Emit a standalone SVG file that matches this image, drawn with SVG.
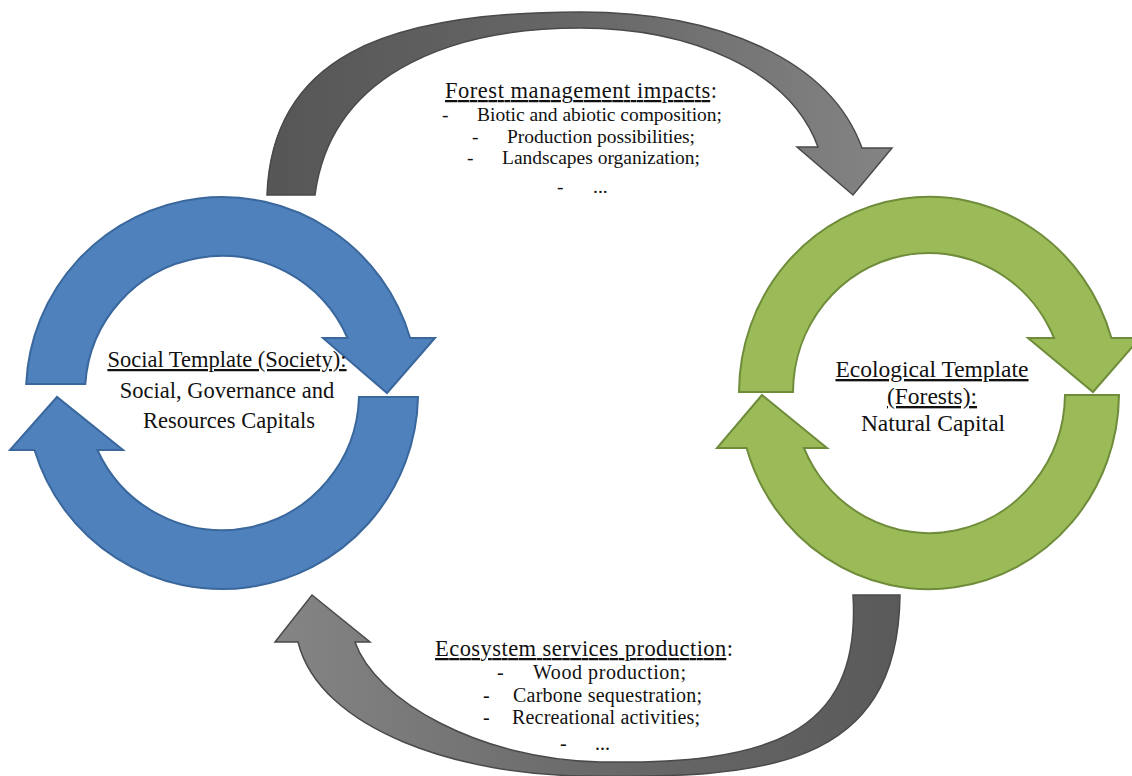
<svg xmlns="http://www.w3.org/2000/svg" width="1132" height="776" viewBox="0 0 1132 776">
<style>
.blue{fill:#4F81BD;stroke:#3A679C;stroke-width:2;stroke-linejoin:miter}
.green{fill:#9BBB59;stroke:#6F8C3A;stroke-width:2;stroke-linejoin:miter}
.gray{stroke:#4A4A4A;stroke-width:1.5;stroke-linejoin:miter}
.t{font-size:22.5px}
.tr{font-size:23.5px}
.i{font-size:19.5px}
.ib{font-size:20px}
</style>
<defs>
<linearGradient id="gTop" x1="0" y1="0" x2="1" y2="0">
<stop offset="0" stop-color="#565656"/>
<stop offset="0.5" stop-color="#676767"/>
<stop offset="1" stop-color="#848484"/>
</linearGradient>
<linearGradient id="gBot" x1="1" y1="0" x2="0" y2="0">
<stop offset="0" stop-color="#5a5a5a"/>
<stop offset="0.5" stop-color="#6a6a6a"/>
<stop offset="1" stop-color="#858585"/>
</linearGradient>
</defs>
<rect width="1132" height="776" fill="#ffffff"/>

<g font-family="Liberation Serif, Times New Roman, DejaVu Serif, serif" fill="#111111">
<g id="connectors">
<g id="forest-management-impacts">
<path class="gray" fill="url(#gTop)" d="M 267,195 C 272,60 380,12 580,12 C 720,12 830,60 862,148 L 892,148 L 853,195 L 797,147 L 818,147 C 790,70 690,28 580,28 C 440,28 330,80 315,195 Z"/>
<text class="t" x="445" y="98" textLength="272"><tspan text-decoration="underline">Forest management impacts</tspan>:</text>
<text class="i" x="442" y="121">-</text><text class="i" x="477" y="121" textLength="245">Biotic and abiotic composition;</text>
<text class="i" x="472" y="143">-</text><text class="i" x="507" y="143" textLength="188">Production possibilities;</text>
<text class="i" x="467" y="164">-</text><text class="i" x="502" y="164" textLength="198">Landscapes organization;</text>
<text class="i" x="557" y="193">-</text><text class="i" x="593" y="193">...</text>
</g>
<g id="ecosystem-services-production">
<path class="gray" fill="url(#gBot)" d="M 900,595 C 898,770 760,778 590,776 C 460,776 320,730 298,642 L 275,642 L 312,595 L 370,642 L 355,642 C 375,700 480,760 600,762 C 760,764 862,740 853,595 Z"/>
<text class="t" x="435" y="656" textLength="298"><tspan text-decoration="underline">Ecosystem services production</tspan>:</text>
<text class="ib" x="497" y="679">-</text><text class="ib" x="533" y="679" textLength="153">Wood production;</text>
<text class="ib" x="483" y="702">-</text><text class="ib" x="513" y="702" textLength="189">Carbone sequestration;</text>
<text class="ib" x="483" y="724">-</text><text class="ib" x="512" y="724" textLength="188">Recreational activities;</text>
<text class="ib" x="560" y="750">-</text><text class="ib" x="595" y="750">...</text>
</g>
</g>

<g id="node-social">
<path class="blue" d="M 26.2,384 A 196 196 0 0 1 410.1,338 L 435,338 L 387,393 L 323,338 L 347.5,338 A 137 137 0 0 0 85.3,384 Z"/>
<path class="blue" d="M 418,397 A 196 196 0 0 1 34.5,450 L 10,450 L 57,397 L 123,450 L 97.4,450 A 137 137 0 0 0 359,397 Z"/>
<text class="t" x="227" y="367" text-anchor="middle"><tspan text-decoration="underline">Social Template (Society):</tspan></text>
<text class="t" x="227" y="398" text-anchor="middle">Social, Governance and</text>
<text class="t" x="229" y="428" text-anchor="middle">Resources Capitals</text>
</g>

<g id="node-ecological">
<path class="green" d="M 739,392 A 190 196 0 0 1 1111.4,338 L 1140,338 L 1093,392 L 1028,338 L 1054.1,338 A 136 140 0 0 0 793,392 Z"/>
<path class="green" d="M 1119,395 A 190 196 0 0 1 746.6,448 L 717,448 L 762,395 L 827,448 L 803.9,448 A 136 140 0 0 0 1065,395 Z"/>
<text class="tr" x="932" y="377" text-anchor="middle"><tspan text-decoration="underline">Ecological Template</tspan></text>
<text class="tr" x="932" y="404" text-anchor="middle"><tspan text-decoration="underline">(Forests):</tspan></text>
<text class="tr" x="933" y="431" text-anchor="middle">Natural Capital</text>
</g>
</g>
</svg>
